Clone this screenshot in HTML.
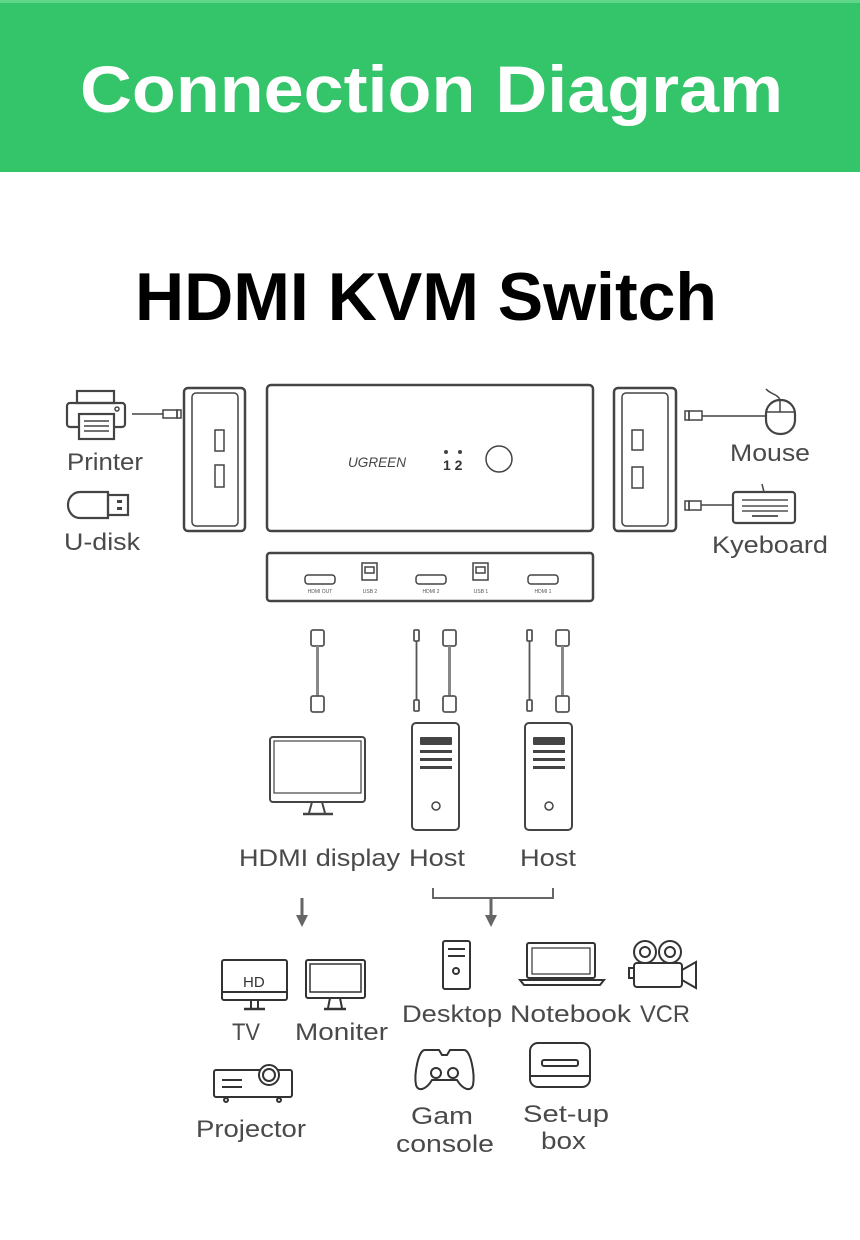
<!DOCTYPE html>
<html><head><meta charset="utf-8"><style>
html,body{margin:0;padding:0;background:#fff;}
svg{display:block}
text{font-family:"Liberation Sans",sans-serif;}
.lb{fill:#4a4a4a;font-size:24px;}
</style></head><body>
<svg width="860" height="1240" viewBox="0 0 860 1240" xmlns="http://www.w3.org/2000/svg">
<rect x="0" y="0" width="860" height="172" fill="#34c46a"/>
<rect x="0" y="0" width="860" height="3" fill="#5fd68a"/>
<text x="80" y="112" font-size="66" font-weight="bold" fill="#fff" textLength="703" lengthAdjust="spacingAndGlyphs">Connection Diagram</text>
<text x="135" y="320" font-size="68" font-weight="bold" fill="#000" textLength="582" lengthAdjust="spacingAndGlyphs">HDMI KVM Switch</text>

<g fill="none" stroke="#444" stroke-width="2.5">
<rect x="184" y="388" width="61" height="143" rx="4"/>
<rect x="192" y="393" width="46" height="133" rx="4" stroke-width="1.5"/>
<rect x="215" y="430" width="9" height="21" stroke-width="1.5"/>
<rect x="215" y="465" width="9" height="22" stroke-width="1.5"/>
<rect x="267" y="385" width="326" height="146" rx="4"/>
<circle cx="499" cy="459" r="13" stroke-width="1.5"/>
<rect x="614" y="388" width="62" height="143" rx="4"/>
<rect x="622" y="393" width="46" height="133" rx="4" stroke-width="1.5"/>
<rect x="632" y="430" width="11" height="20" stroke-width="1.5"/>
<rect x="632" y="467" width="11" height="21" stroke-width="1.5"/>
<rect x="267" y="553" width="326" height="48" rx="3"/>
<g stroke-width="1.5">
<rect x="305" y="575" width="30" height="9" rx="3"/>
<rect x="416" y="575" width="30" height="9" rx="3"/>
<rect x="528" y="575" width="30" height="9" rx="3"/>
<rect x="362" y="563" width="15" height="17"/><rect x="365" y="567" width="9" height="6"/>
<rect x="473" y="563" width="15" height="17"/><rect x="476" y="567" width="9" height="6"/>
</g>
</g>
<text x="348" y="467" font-size="14" font-style="italic" fill="#444" textLength="58" lengthAdjust="spacingAndGlyphs">UGREEN</text>
<circle cx="446" cy="452" r="2" fill="#444"/><circle cx="460" cy="452" r="2" fill="#444"/>
<text x="443" y="470" font-size="14" font-weight="bold" fill="#333">1 2</text>
<g font-size="5" fill="#555" text-anchor="middle">
<text x="320" y="593">HDMI OUT</text><text x="370" y="593">USB 2</text><text x="431" y="593">HDMI 2</text><text x="481" y="593">USB 1</text><text x="543" y="593">HDMI 1</text>
</g>

<g fill="none" stroke="#444" stroke-width="2.2">
<rect x="77" y="391" width="37" height="12"/>
<rect x="67" y="403" width="58" height="24" rx="3"/>
<rect x="79" y="414" width="35" height="25" fill="#fff"/>
<line x1="84" y1="421" x2="109" y2="421" stroke-width="1.5"/><line x1="84" y1="426" x2="109" y2="426" stroke-width="1.5"/><line x1="84" y1="431" x2="109" y2="431" stroke-width="1.5"/>
<circle cx="117" cy="409" r="2" stroke-width="1.5"/>
<line x1="132" y1="414" x2="163" y2="414" stroke-width="1.5"/>
<rect x="163" y="410" width="14" height="8" stroke-width="1.5"/><rect x="177" y="410" width="4" height="8" stroke-width="1.5"/>
<path d="M108 492 H80 A12 13 0 0 0 80 518 H108 Z"/>
<rect x="108" y="495" width="20" height="20"/>
<rect x="685" y="411" width="4" height="9" stroke-width="1.5"/><rect x="689" y="411" width="13" height="9" stroke-width="1.5"/>
<line x1="702" y1="416" x2="766" y2="416" stroke-width="1.5"/>
<rect x="766" y="400" width="29" height="34" rx="14"/>
<line x1="780" y1="400" x2="780" y2="412" stroke-width="1.5"/><line x1="766" y1="412" x2="795" y2="412" stroke-width="1.5"/>
<path d="M780 400 C778 394 770 394 766 389" stroke-width="1.5"/>
<rect x="685" y="501" width="4" height="9" stroke-width="1.5"/><rect x="689" y="501" width="12" height="9" stroke-width="1.5"/>
<line x1="701" y1="505" x2="733" y2="505" stroke-width="1.5"/>
<rect x="733" y="492" width="62" height="31" rx="3"/>
<line x1="764" y1="492" x2="762" y2="484" stroke-width="1.5"/>
<line x1="752" y1="516" x2="778" y2="516" stroke-width="1.8"/>
</g>
<rect x="117" y="500" width="5" height="3" fill="#444"/><rect x="117" y="507" width="5" height="3" fill="#444"/>
<g fill="#444">
<rect x="742" y="499" width="46" height="2" opacity=".7"/><rect x="742" y="505" width="46" height="2" opacity=".7"/><rect x="742" y="510" width="46" height="2" opacity=".7"/>
</g>
<text class="lb" x="67" y="470" textLength="76" lengthAdjust="spacingAndGlyphs">Printer</text>
<text class="lb" x="64" y="550" textLength="76" lengthAdjust="spacingAndGlyphs">U-disk</text>
<text class="lb" x="730" y="461" textLength="80" lengthAdjust="spacingAndGlyphs">Mouse</text>
<text class="lb" x="712" y="553" textLength="116" lengthAdjust="spacingAndGlyphs">Kyeboard</text>

<g fill="none" stroke="#555" stroke-width="1.8">
<rect x="311" y="630" width="13" height="16" rx="2"/><line x1="317.5" y1="646" x2="317.5" y2="696" stroke="#888" stroke-width="3"/><rect x="311" y="696" width="13" height="16" rx="2"/>
<rect x="443" y="630" width="13" height="16" rx="2"/><line x1="449.5" y1="646" x2="449.5" y2="696" stroke="#888" stroke-width="3"/><rect x="443" y="696" width="13" height="16" rx="2"/>
<rect x="556" y="630" width="13" height="16" rx="2"/><line x1="562.5" y1="646" x2="562.5" y2="696" stroke="#888" stroke-width="3"/><rect x="556" y="696" width="13" height="16" rx="2"/>
<rect x="414" y="630" width="5" height="11" rx="1"/><line x1="416.5" y1="641" x2="416.5" y2="700"/><rect x="414" y="700" width="5" height="11" rx="1"/>
<rect x="527" y="630" width="5" height="11" rx="1"/><line x1="529.5" y1="641" x2="529.5" y2="700"/><rect x="527" y="700" width="5" height="11" rx="1"/>
</g>
<g fill="none" stroke="#444" stroke-width="2">
<rect x="270" y="737" width="95" height="65" rx="3"/>
<rect x="274" y="741" width="87" height="52" stroke-width="1.2"/>
<path d="M312 802 L309 813 M322 802 L325 813" />
<line x1="303" y1="814" x2="333" y2="814" stroke-width="2.5"/>
<rect x="412" y="723" width="47" height="107" rx="4"/>
<rect x="525" y="723" width="47" height="107" rx="4"/>
<circle cx="436" cy="806" r="4" stroke-width="1.5"/>
<circle cx="549" cy="806" r="4" stroke-width="1.5"/>
</g>
<g fill="#444">
<rect x="420" y="737" width="32" height="8" rx="1"/><rect x="420" y="750" width="32" height="3"/><rect x="420" y="758" width="32" height="3"/><rect x="420" y="766" width="32" height="3"/>
<rect x="533" y="737" width="32" height="8" rx="1"/><rect x="533" y="750" width="32" height="3"/><rect x="533" y="758" width="32" height="3"/><rect x="533" y="766" width="32" height="3"/>
</g>
<text class="lb" x="239" y="866" textLength="161" lengthAdjust="spacingAndGlyphs">HDMI display</text>
<text class="lb" x="409" y="866" textLength="56" lengthAdjust="spacingAndGlyphs">Host</text>
<text class="lb" x="520" y="866" textLength="56" lengthAdjust="spacingAndGlyphs">Host</text>
<g stroke="#666" stroke-width="2" fill="none">
<path d="M433 888 V898 H553 V888"/>
<line x1="491" y1="898" x2="491" y2="918" stroke-width="3"/>
<line x1="302" y1="898" x2="302" y2="918" stroke-width="3"/>
</g>
<path d="M485 915 L497 915 L491 927 Z M296 915 L308 915 L302 927 Z" fill="#666"/>

<g fill="none" stroke="#333" stroke-width="2">
<rect x="222" y="960" width="65" height="40" rx="2"/><line x1="222" y1="992" x2="287" y2="992"/>
<path d="M251 1000 V1008 M258 1000 V1008"/><line x1="244" y1="1009" x2="265" y2="1009" stroke-width="2.5"/>
<rect x="306" y="960" width="59" height="38" rx="2"/><rect x="310" y="964" width="51" height="28" stroke-width="1.5"/>
<path d="M330 998 L328 1008 M340 998 L342 1008"/><line x1="324" y1="1009" x2="346" y2="1009" stroke-width="2.5"/>
<rect x="214" y="1070" width="78" height="27" rx="2"/><circle cx="269" cy="1075" r="10" fill="#fff"/><circle cx="269" cy="1075" r="6"/>
<path d="M222 1080 H242 M222 1087 H242"/><circle cx="226" cy="1100" r="2"/><circle cx="279" cy="1100" r="2"/>
<rect x="443" y="941" width="27" height="48" rx="2"/><path d="M448 949 H465 M448 956 H465"/><circle cx="456" cy="971" r="3"/>
<rect x="527" y="943" width="68" height="35" rx="2"/><rect x="532" y="948" width="58" height="26" stroke-width="1.2"/>
<path d="M520 980 H604 L600 985 H524 Z"/>
<circle cx="645" cy="952" r="11"/><circle cx="645" cy="952" r="5"/><circle cx="670" cy="952" r="11"/><circle cx="670" cy="952" r="5"/>
<rect x="634" y="963" width="48" height="24" rx="3"/><path d="M682 970 L696 962 V988 L682 980"/><rect x="629" y="968" width="5" height="10"/>
<path d="M425 1050 C418 1050 414 1075 416 1085 C418 1092 426 1090 432 1080 H457 C463 1090 471 1092 473 1085 C475 1075 471 1050 464 1050 H450 L447 1055 H442 L439 1050 Z"/>
<circle cx="436" cy="1073" r="5"/><circle cx="453" cy="1073" r="5"/>
<rect x="530" y="1043" width="60" height="44" rx="8"/><line x1="530" y1="1076" x2="590" y2="1076"/><rect x="542" y="1060" width="36" height="6" rx="2"/>
</g>
<text x="243" y="987" font-size="15" fill="#333">HD</text>
<text class="lb" x="232" y="1040" textLength="28" lengthAdjust="spacingAndGlyphs">TV</text>
<text class="lb" x="295" y="1040" textLength="93" lengthAdjust="spacingAndGlyphs">Moniter</text>
<text class="lb" x="196" y="1137" textLength="110" lengthAdjust="spacingAndGlyphs">Projector</text>
<text class="lb" x="402" y="1022" textLength="100" lengthAdjust="spacingAndGlyphs">Desktop</text>
<text class="lb" x="510" y="1022" textLength="121" lengthAdjust="spacingAndGlyphs">Notebook</text>
<text class="lb" x="640" y="1022" textLength="50" lengthAdjust="spacingAndGlyphs">VCR</text>
<text class="lb" x="411" y="1124" textLength="62" lengthAdjust="spacingAndGlyphs">Gam</text>
<text class="lb" x="396" y="1152" textLength="98" lengthAdjust="spacingAndGlyphs">console</text>
<text class="lb" x="523" y="1122" textLength="86" lengthAdjust="spacingAndGlyphs">Set-up</text>
<text class="lb" x="541" y="1149" textLength="45" lengthAdjust="spacingAndGlyphs">box</text>
</svg>
</body></html>
